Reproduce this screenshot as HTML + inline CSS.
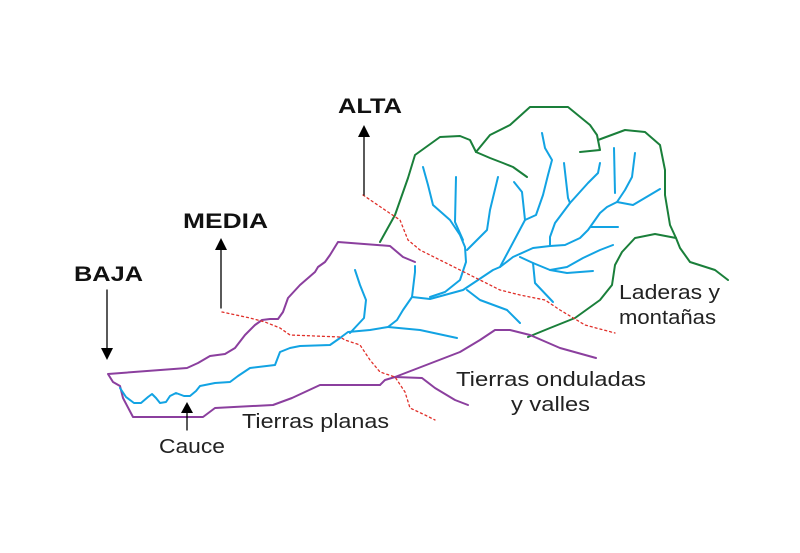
<!DOCTYPE html>
<html><head><meta charset="utf-8"><style>html,body{margin:0;padding:0;background:#fff}svg{display:block}</style></head>
<body>
<svg width="800" height="553" viewBox="0 0 800 553" xmlns="http://www.w3.org/2000/svg" font-family="Liberation Sans, sans-serif">
<rect width="800" height="553" fill="#fff"/>
<g fill="none" stroke-linejoin="round" stroke-linecap="round">
<!-- green -->
<g stroke="#1a7f3a" stroke-width="2">
<polyline points="380,242 395,215 408,178 415,155 440,137 460,136 470,140 476,152 490,135 510,125 530,107 568,107 590,125 597,135 600,150 580,152"/>
<polyline points="598,140 625,130 645,132 660,145 665,170 665,195 670,225 676,238 680,248 690,262 715,270 728,280"/>
<polyline points="676,238 655,234 635,238 622,252 615,265 612,285 600,300 575,318 550,328 528,337"/>
<polyline points="476,152 490,158 503,163 513,167 527,177"/>
</g>
<!-- purple -->
<g stroke="#8b3f9e" stroke-width="2">
<polyline points="415,262 403,257 390,246 338,242 330,255 325,262 318,267 315,272 300,285 288,298 283,312 278,319 270,319 262,320 255,325 245,335 235,348 225,354 210,356 198,363 187,368 108,374 113,382 120,386 123,398 133,417 203,417 215,408 273,405 292,398 320,385 380,385 385,380 395,377 422,378 435,388 455,400 468,405"/>
<polyline points="395,377 460,352 480,340 495,330 510,330 530,335 560,348 596,358"/>
</g>
<!-- blue -->
<g stroke="#12a3e3" stroke-width="2">
<polyline points="120,388 126,397 134,403 141,403 148,397 152,394 156,398 160,403 166,402 170,396 176,393 184,396 190,396 196,391 200,386 215,383 230,382 238,376 250,368 275,365 280,352 290,348 300,346 330,345 340,338 348,332 370,330 388,327 397,320 403,310 412,297 415,272 415,266"/>
<polyline points="355,270 360,285 366,300 364,318 350,333"/>
<polyline points="388,327 420,330 457,338"/>
<polyline points="412,297 430,299 463,290 493,270 500,267 513,257 533,248 550,246 565,245 580,238 588,230 600,213 607,207 617,202 633,205 660,189"/>
<polyline points="615,193 614,148"/>
<polyline points="635,153 632,177 625,190 617,202"/>
<polyline points="591,227 618,227"/>
<polyline points="550,246 550,237 555,223 570,203 588,183 598,173 600,163"/>
<polyline points="564,163 568,198 570,203"/>
<polyline points="520,257 533,263 550,270 567,267 583,258 600,250 613,245"/>
<polyline points="550,270 567,273 593,271"/>
<polyline points="533,263 535,283 553,302"/>
<polyline points="500,267 525,220 536,215 543,195 548,175 552,160 545,148 542,133"/>
<polyline points="514,182 522,192 525,220"/>
<polyline points="430,297 445,292 460,280 466,262 465,247 460,235 450,220 433,205 428,185 423,167"/>
<polyline points="456,177 455,222 463,240"/>
<polyline points="498,177 490,210 487,230 467,250"/>
<polyline points="467,290 480,300 507,310 520,323"/>
</g>
<!-- red dotted -->
<g stroke="#e0302a" stroke-width="1.3" stroke-dasharray="2,3">
<polyline points="363,195 385,210 400,220 408,240 420,250 450,265 480,280 500,290 520,295 545,300 560,310 585,325 615,333"/>
<polyline points="222,312 250,318 265,322 280,328 290,335 340,337 345,340 360,345 370,360 380,372 395,377 405,392 410,408 425,415 435,420"/>
</g>
<!-- arrows -->
<g stroke="#000" stroke-width="1.3">
<line x1="364" y1="135" x2="364" y2="195"/>
<line x1="221" y1="248" x2="221" y2="308"/>
<line x1="107" y1="290" x2="107" y2="350"/>
<line x1="187" y1="411" x2="187" y2="430"/>
</g>
</g>
<g fill="#000">
<polygon points="358,137 370,137 364,125"/>
<polygon points="215,250 227,250 221,238"/>
<polygon points="101,348 113,348 107,360"/>
<polygon points="181,413 193,413 187,402"/>
</g>
<g font-weight="bold" font-size="21" fill="#111">
<text x="338" y="113" textLength="64" lengthAdjust="spacingAndGlyphs">ALTA</text>
<text x="183" y="228" textLength="85" lengthAdjust="spacingAndGlyphs">MEDIA</text>
<text x="74" y="281" textLength="69" lengthAdjust="spacingAndGlyphs">BAJA</text>
</g>
<g font-size="20" fill="#222">
<text x="159" y="453" textLength="66" lengthAdjust="spacingAndGlyphs">Cauce</text>
<text x="242" y="428" textLength="147" lengthAdjust="spacingAndGlyphs">Tierras planas</text>
<text x="456" y="386" textLength="190" lengthAdjust="spacingAndGlyphs">Tierras onduladas</text>
<text x="511" y="411" textLength="79" lengthAdjust="spacingAndGlyphs">y valles</text>
<text x="619" y="299" textLength="101" lengthAdjust="spacingAndGlyphs">Laderas y</text>
<text x="619" y="324" textLength="97" lengthAdjust="spacingAndGlyphs">montañas</text>
</g>
</svg>
</body></html>
